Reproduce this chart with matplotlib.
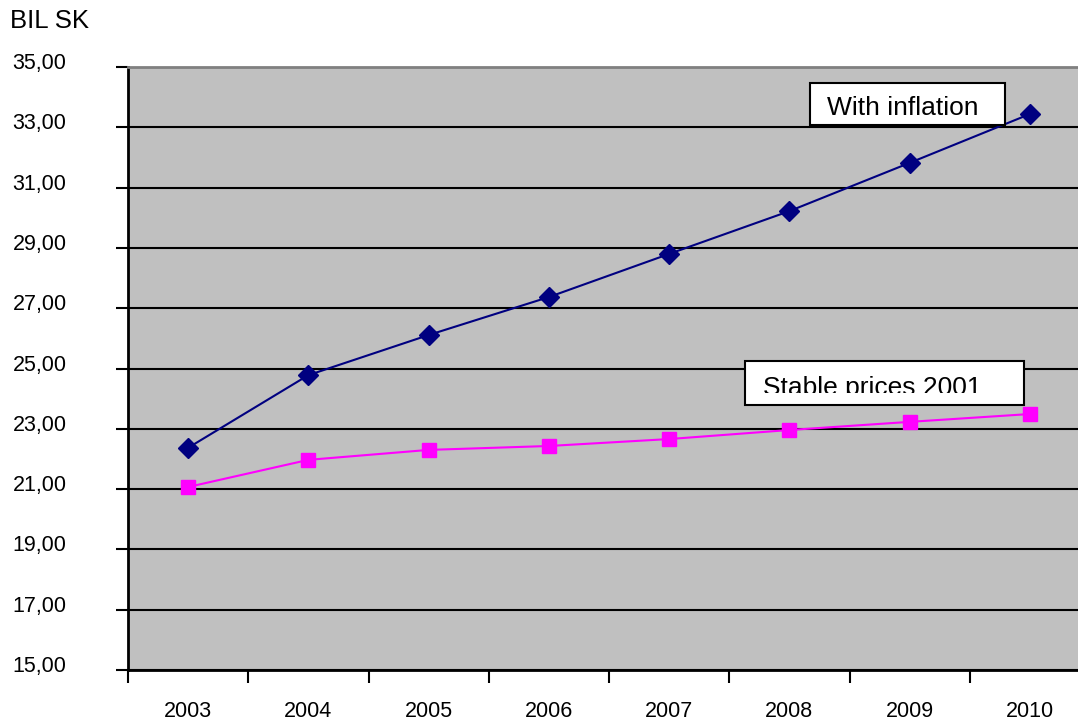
import matplotlib.pyplot as plt
import matplotlib.transforms as mtransforms
from matplotlib.patches import Rectangle

plt.rcParams['font.family'] = ['Liberation Sans', 'DejaVu Sans']

# data
years = ['2003', '2004', '2005', '2006', '2007', '2008', '2009', '2010']
with_inflation = [22.37, 24.78, 26.11, 27.37, 28.80, 30.22, 31.82, 33.44]
stable_prices = [21.07, 21.97, 22.30, 22.43, 22.66, 22.96, 23.23, 23.49]
y_ticks = [15, 17, 19, 21, 23, 25, 27, 29, 31, 33, 35]

W, H = 1078, 721
fig = plt.figure(figsize=(W / 100, H / 100), dpi=100)
ax = fig.add_axes([128 / W, 1 - 670 / H, 1 - 128 / W, (670 - 67) / H])
ax.set_facecolor('#C0C0C0')

x = list(range(len(years)))
ax.plot(x, with_inflation, color='#000080', lw=1.5, marker='D', ms=10.5,
        mfc='#000080', mec='#000080', zorder=4, clip_on=False)
ax.plot(x, stable_prices, color='#FF00FF', lw=1.5, marker='s', ms=10.5,
        mfc='#FF00FF', mec='#FF00FF', zorder=4, clip_on=False)

ax.set_xlim(-0.5, 7.4)
ax.set_ylim(15, 35)

# horizontal gridlines
ax.set_yticks(y_ticks)
ax.set_yticklabels([('%.2f' % v).replace('.', ',') for v in y_ticks])
ax.yaxis.grid(True, color='black', lw=1.5)
ax.set_axisbelow(True)

# category ticks at boundaries, labels at centres
ax.set_xticks([i - 0.5 for i in x])
ax.set_xticklabels([])
ax.set_xticks(x, minor=True)
ax.set_xticklabels(years, minor=True)
ax.tick_params(axis='x', which='major', direction='out', length=9, width=1.5,
               color='black')
ax.tick_params(axis='x', which='minor', length=0, pad=22, labelsize=15.5)
ax.tick_params(axis='y', direction='out', length=9, width=1.5, pad=74,
               labelsize=15.5)
shift = mtransforms.ScaledTranslation(0, 6 / 100, fig.dpi_scale_trans)
for lab in ax.get_yticklabels():
    lab.set_horizontalalignment('left')
    lab.set_transform(lab.get_transform() + shift)

ax.spines['left'].set_linewidth(2)
ax.spines['bottom'].set_linewidth(2)
ax.spines['top'].set_color('#808080')
ax.spines['top'].set_linewidth(2)
ax.spines['right'].set_visible(False)

fig.text(10 / W, 1 - 21 / H, 'BIL SK', fontsize=18.5, va='center', ha='left')


# label boxes (text clipped like in the original)
def label_box(x0, y0, x1, y1, txt, tx, ty, clip_bottom):
    r = Rectangle((x0 / W, 1 - y1 / H), (x1 - x0) / W, (y1 - y0) / H,
                  transform=fig.transFigure, facecolor='white',
                  edgecolor='black', lw=1.5, zorder=5)
    fig.add_artist(r)
    c = Rectangle((x0 / W, 1 - clip_bottom / H), (x1 - x0) / W,
                  (clip_bottom - y0) / H, transform=fig.transFigure,
                  visible=False)
    fig.add_artist(c)
    t = fig.text(tx / W, 1 - ty / H, txt, fontsize=19, ha='left',
                 va='baseline', zorder=6)
    t.set_clip_path(c)


label_box(810, 83, 1005, 125, 'With inflation', 827, 115, 125)
label_box(745, 361, 1024, 405, 'Stable prices 2001', 763, 395, 393)

fig.savefig('out.png', dpi=100)
